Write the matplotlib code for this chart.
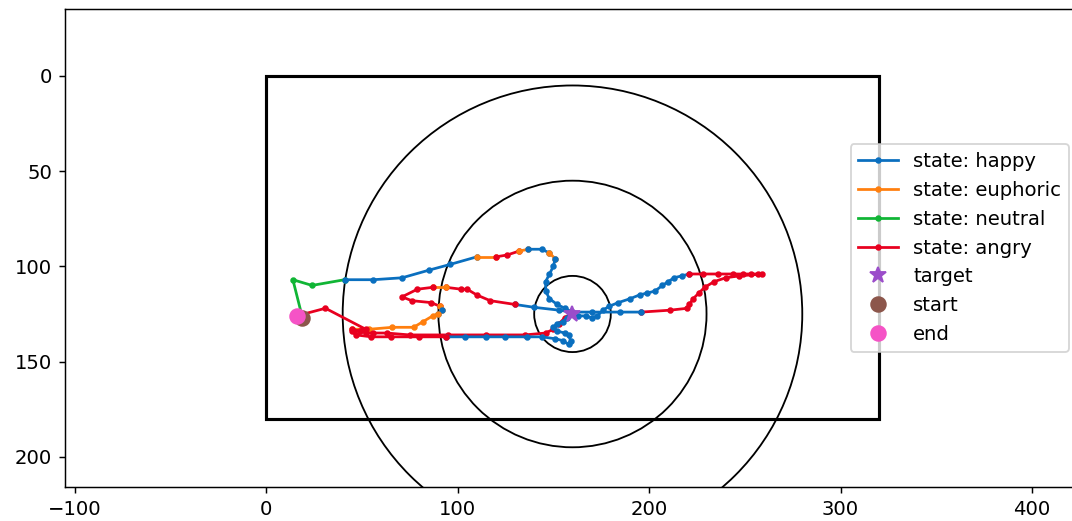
import numpy as np
import matplotlib.pyplot as plt
from matplotlib.patches import Circle, Rectangle

plt.rcParams['font.size'] = 10.7

# arena and target
arena_w, arena_h = 320, 180
target = (160, 125)
ring_radii = [20, 70, 120]

state_colors = {
    'happy': '#0a6fbf',
    'euphoric': '#ff7f0e',
    'neutral': '#10b535',
    'angry': '#e8001f',
}

# trajectory: position and the state of the step that led there
path_x = [19, 14, 24, 41,
          56, 71, 85, 96, 110,
          120,
          126, 132,
          137,
          144, 148,
          151,
          150, 148, 146, 146, 148, 152, 156, 160, 163, 167, 170, 173, 176, 179, 184, 190, 195, 199, 203, 207, 210, 213, 217, 221,
          228, 236, 244, 249, 253, 257, 259, 247, 240, 234, 229, 226, 223, 221, 220, 211, 196,
          185, 170, 160, 153, 140, 130,
          117, 110, 105, 102, 94,
          87,
          79, 71, 76, 86, 91,
          92,
          90,
          87, 82, 77, 66, 54, 45,
          46, 49, 52, 56, 63, 75, 95, 115, 135, 146, 150, 153, 156, 160,
          157, 155, 152, 150, 152, 156, 158, 159, 158, 155, 151, 144, 136, 125, 115, 104, 94,
          80, 65, 55, 47, 45, 52, 31, 16]
path_y = [127, 107, 110, 107,
          107, 106, 102, 99, 95,
          95,
          94, 92,
          91,
          91, 93,
          96,
          100, 104, 108, 113, 117, 120, 122, 124, 126, 126, 127, 126, 123, 121, 119, 117, 115, 114, 113, 110, 108, 106, 105, 104,
          104, 104, 104, 104, 104, 104, 104, 105, 106, 108, 111, 114, 117, 120, 122, 123, 124,
          124, 124, 124, 123, 121.5, 120,
          118, 115, 112, 112, 111,
          111,
          112, 116, 118, 119, 121,
          123,
          125,
          126, 129, 132, 132, 133, 133,
          134, 134, 135, 135, 135, 136, 136, 136, 136, 135, 133, 130, 127, 124,
          127, 129, 130, 132, 134, 135, 136, 139, 141, 139, 138, 137, 137, 137, 137, 137, 137,
          137, 137, 137, 136, 134, 133, 122, 126]
path_state = (['neutral'] * 4 + ['happy'] * 5 + ['euphoric'] + ['angry'] * 2 + ['euphoric']
              + ['happy'] * 2 + ['euphoric'] + ['happy'] * 24 + ['angry'] * 17 + ['happy'] * 6
              + ['angry'] * 5 + ['euphoric'] + ['angry'] * 5 + ['euphoric'] + ['happy']
              + ['euphoric'] * 6 + ['angry'] * 14 + ['happy'] * 17 + ['angry'] * 8)

fig = plt.figure(figsize=(1072 / 132, 521 / 132), dpi=132)
ax = fig.add_axes([65 / 1072, 34.3 / 521, 1014 / 1072, 477.4 / 521])

ax.add_patch(Rectangle((0, 0), arena_w, arena_h, fill=False, edgecolor='black', lw=1.7))
for r in ring_radii:
    ax.add_patch(Circle(target, r, fill=False, edgecolor='black', lw=1))

# draw each run of equal state as one line, joined to the previous point
handles = {}
i = 1
while i < len(path_x):
    s = path_state[i]
    j = i
    while j + 1 < len(path_x) and path_state[j + 1] == s:
        j += 1
    line, = ax.plot(path_x[i - 1:j + 1], path_y[i - 1:j + 1], '.-', color=state_colors[s], lw=1.5, ms=5)
    handles.setdefault(s, line)
    i = j + 1

h_target, = ax.plot(*target, '*', color='#9b4dca', ms=9, ls='none')
h_start, = ax.plot(path_x[0], path_y[0], 'o', color='#8c564b', ms=8, ls='none')
h_end, = ax.plot(path_x[-1], path_y[-1], 'o', color='#f553c6', ms=8, ls='none')

order = ['happy', 'euphoric', 'neutral', 'angry']
ax.legend([handles[s] for s in order] + [h_target, h_start, h_end],
          ['state: ' + s for s in order] + ['target', 'start', 'end'],
          loc='center right')

ax.set_xlim(-105, 424.5)
ax.set_ylim(215.7, -35)
ax.set_xticks([-100, 0, 100, 200, 300, 400])
ax.set_yticks([0, 50, 100, 150, 200])

fig.savefig('out.png', dpi=132)
